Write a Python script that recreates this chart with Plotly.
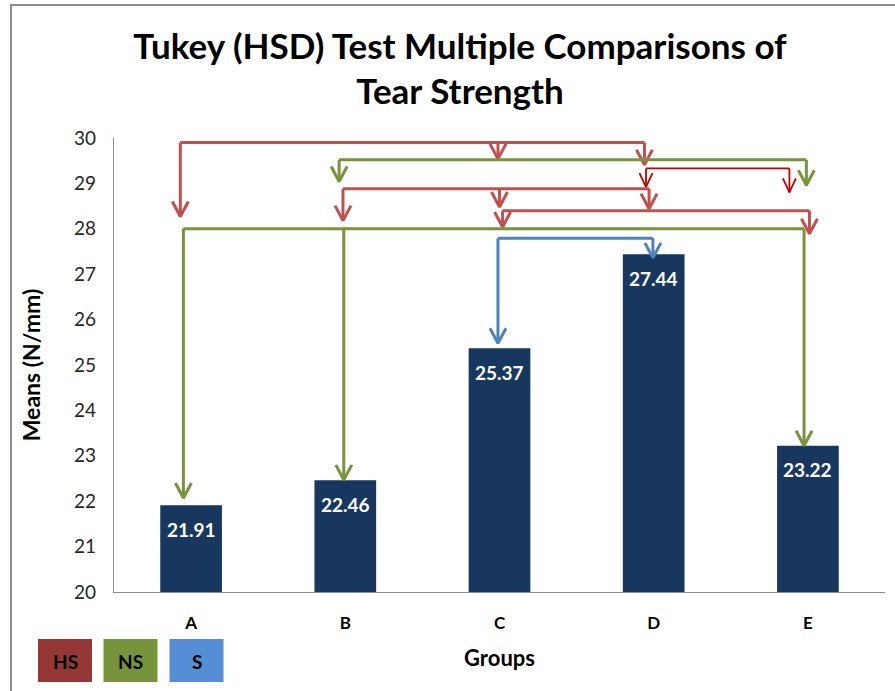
import plotly.graph_objects as go

# ---- data ----
groups = ["A", "B", "C", "D", "E"]
means = [21.91, 22.46, 25.37, 27.44, 23.22]
y_ticks = [20, 21, 22, 23, 24, 25, 26, 27, 28, 29, 30]

# comparison brackets (x in group-index units, y in N/mm)
bracket_kind = ["HS", "NS", "HS2", "HS", "HS", "NS", "S"]
bracket_level = [29.90, 29.52, 29.33, 28.88, 28.40, 28.00, 27.79]
bracket_x = [
    [-0.07, 1.99, 2.94],
    [0.96, 3.99],
    [2.95, 3.88],
    [0.985, 2.00, 2.97],
    [2.02, 4.01],
    [-0.05, 0.99, 3.975],
    [1.99, 2.995],
]
bracket_tip = [
    [28.27, 29.54, 29.41],
    [29.04, 28.96],
    [28.92, 28.80],
    [28.18, 28.48, 28.44],
    [28.04, 27.89],
    [22.07, 22.47, 23.22],
    [25.48, 27.36],
]

legend_labels = ["HS", "NS", "S"]

# ---- styling ----
W, H = 895, 691
ML, MR, MT, MB = 114, 10, 138, 99
PW, PH = W - ML - MR, H - MT - MB
XR = [-0.5, 4.5]
YR = [20, 30]
ux = PW / (XR[1] - XR[0])   # px per x unit
uy = PH / (YR[1] - YR[0])   # px per y unit

line_style = {
    "HS": dict(color="#C0504D", width=3, hw=8, hh=15),
    "HS2": dict(color="#C00000", width=1.8, hw=6.5, hh=14),
    "NS": dict(color="#77933C", width=3, hw=8, hh=15),
    "S": dict(color="#4F81BD", width=3, hw=8, hh=15),
}
legend_fill = {"HS": "#953735", "NS": "#77933C", "S": "#558ED5"}
FONT = "Lato"

fig = go.Figure()
fig.add_trace(go.Bar(x=list(range(len(groups))), y=means, width=0.4,
                     marker=dict(color="#17375E", line=dict(width=0)),
                     showlegend=False, hoverinfo="y"))

for kind, lvl, xs, tips in zip(bracket_kind, bracket_level, bracket_x, bracket_tip):
    st = line_style[kind]
    px, py = [min(xs), max(xs), None], [lvl, lvl, None]
    hx, hy = [], []
    dx, dy = st["hw"] / ux, st["hh"] / uy
    for x, t in zip(xs, tips):
        px += [x, x, None]
        py += [lvl, t, None]
        hx += [x - dx, x, x + dx, None]
        hy += [t + dy, t, t + dy, None]
    fig.add_trace(go.Scatter(x=px + hx, y=py + hy, mode="lines",
                             line=dict(color=st["color"], width=st["width"]),
                             showlegend=False, hoverinfo="skip"))

for i, v in enumerate(means):
    fig.add_annotation(x=i, y=v, text=f"<b>{v:.2f}</b>", showarrow=False,
                       yshift=-24, font=dict(family=FONT, size=19, color="white"))


def ppx(p):
    return (p - ML) / PW


def ppy(p):
    return (H - MB - p) / PH


# legend boxes
box_left = [38, 103.5, 169.5]
for lab, x0 in zip(legend_labels, box_left):
    fig.add_shape(type="rect", xref="paper", yref="paper",
                  x0=ppx(x0), x1=ppx(x0 + 54), y0=ppy(682), y1=ppy(639),
                  fillcolor=legend_fill[lab], line=dict(width=0))
    fig.add_annotation(xref="paper", yref="paper", x=ppx(x0 + 27), y=ppy(661),
                       xanchor="center", yanchor="middle",
                       text=f"<b>{lab}</b>", showarrow=False,
                       font=dict(family=FONT, size=19, color="black"))

# outer frame
fig.add_shape(type="rect", xref="paper", yref="paper",
              x0=ppx(11), x1=ppx(905), y0=ppy(700), y1=ppy(5),
              line=dict(color="#8C8C8C", width=2), fillcolor="rgba(0,0,0,0)")

fig.update_layout(
    width=W, height=H,
    margin=dict(l=ML, r=MR, t=MT, b=MB, autoexpand=False),
    paper_bgcolor="white", plot_bgcolor="white",
    font=dict(family=FONT, color="#262626"),
    title=dict(text="<b>Tukey (HSD) Test Multiple Comparisons of<br>Tear Strength</b>",
               x=460 / W, xanchor="center", y=1 - 58.5 / H, yanchor="middle",
               font=dict(family=FONT, size=35, color="black")),
    xaxis=dict(range=XR, tickvals=list(range(len(groups))), ticktext=groups,
               showgrid=False, zeroline=False, showline=True, linecolor="#8C8C8C",
               linewidth=1.3, ticks="", ticklabelstandoff=15,
               tickfont=dict(family=FONT, size=17, color="black", weight="bold"),
               title=dict(text="<b>Groups</b>", standoff=19,
                          font=dict(family=FONT, size=22, color="black"))),
    yaxis=dict(range=YR, tickvals=y_ticks, showgrid=False, zeroline=False,
               showline=True, linecolor="#8C8C8C", linewidth=1.3, ticks="",
               ticklabelstandoff=13,
               tickfont=dict(family=FONT, size=19, color="#262626"),
               title=dict(text="<b>Means (N/mm)</b>", standoff=26,
                          font=dict(family=FONT, size=23, color="black"))),
    bargap=0.6,
)

fig.write_html("out.html", config={"displayModeBar": False},
               post_script="document.body.style.margin='0';")
